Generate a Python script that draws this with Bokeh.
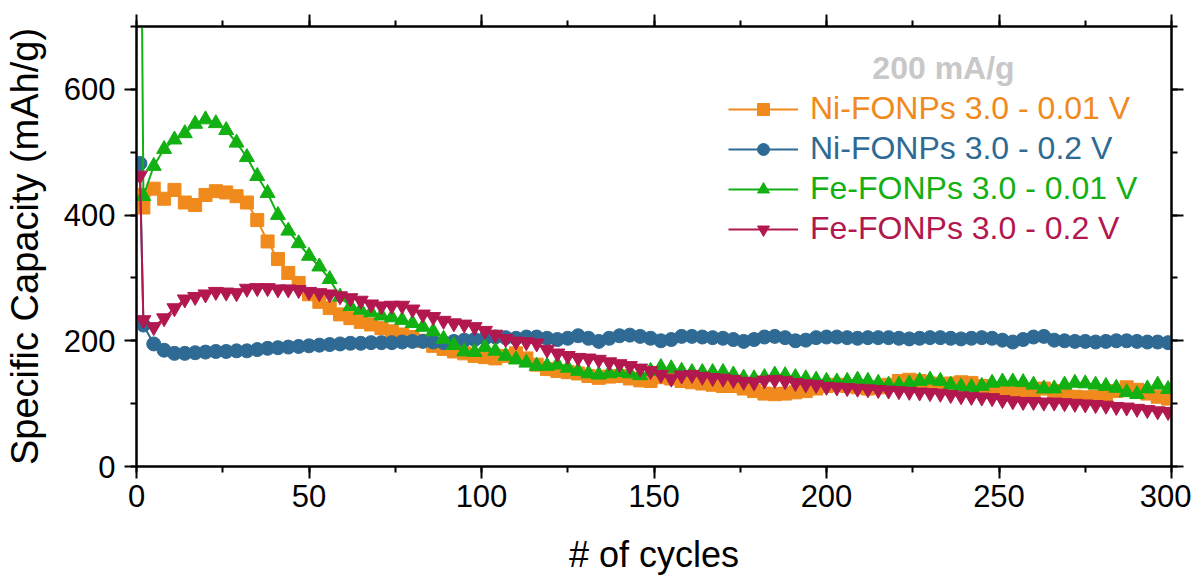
from bokeh.plotting import figure
from bokeh.models import Range1d, SingleIntervalTicker, LinearAxis, Legend, LegendItem, Label
from bokeh.embed import file_html
from bokeh.resources import INLINE

cycles = [1] + list(range(2, 301, 3))

ni_001 = [432, 412, 442, 426, 440, 420, 416, 432, 438, 436, 430, 420, 392, 358, 330, 308, 292, 274, 262, 252,
          242, 236, 230, 226, 220, 215, 210, 206, 200, 192, 187, 183, 180, 176, 174, 172, 176, 180, 172, 162,
          155, 152, 150, 148, 144, 141, 143, 144, 140, 137, 136, 142, 140, 136, 134, 132, 130, 128, 128, 124,
          120, 116, 115, 116, 118, 120, 124, 128, 130, 128, 126, 124, 126, 130, 136, 138, 136, 132, 130, 132,
          134, 133, 128, 124, 120, 117, 118, 120, 124, 120, 114, 111, 110, 111, 114, 120, 126, 122, 116, 111,
          108]
ni_02 = [482, 225, 195, 185, 180, 180, 181, 182, 183, 183, 184, 184, 186, 188, 189, 190, 191, 192, 193, 194,
         195, 196, 196, 197, 197, 197, 198, 199, 199, 198, 197, 199, 201, 202, 204, 206, 205, 204, 206, 206,
         204, 202, 204, 208, 204, 199, 204, 208, 209, 207, 204, 200, 202, 207, 207, 206, 205, 204, 202, 199,
         202, 206, 207, 205, 200, 201, 205, 206, 206, 205, 204, 205, 205, 205, 204, 203, 204, 205, 205, 204,
         203, 204, 205, 204, 201, 198, 202, 206, 207, 201, 200, 199, 199, 198, 199, 200, 200, 199, 198, 198,
         197]
fe_001 = [1150, 430, 478, 505, 520, 530, 545, 552, 546, 535, 515, 492, 462, 435, 400, 375, 355, 335, 318, 298,
          270, 255, 249, 245, 240, 237, 233, 228, 222, 215, 203, 193, 183, 182, 190, 184, 176, 170, 165, 160,
          160, 162, 157, 152, 148, 146, 148, 150, 148, 145, 152, 158, 156, 152, 150, 150, 150, 150, 146, 141,
          140, 142, 146, 145, 142, 140, 138, 136, 135, 136, 138, 136, 133, 130, 130, 132, 136, 138, 136, 130,
          127, 126, 128, 133, 135, 135, 134, 130, 124, 124, 130, 133, 132, 130, 128, 125, 118, 115, 124, 130,
          123]
fe_02 = [463, 233, 222, 236, 252, 266, 270, 274, 278, 277, 276, 283, 284, 284, 282, 282, 281, 278, 276, 274,
         271, 268, 264, 258, 255, 256, 256, 250, 242, 238, 232, 228, 226, 222, 216, 210, 203, 199, 198, 196,
         186, 180, 176, 173, 172, 170, 166, 163, 160, 156, 152, 146, 140, 145, 146, 143, 141, 140, 138, 135,
         134, 137, 138, 136, 133, 131, 130, 127, 126, 125, 124, 123, 122, 121, 120, 119, 118, 117, 116, 114,
         112, 111, 110, 109, 106, 104, 103, 103, 102, 102, 101, 100, 99, 98, 97, 95, 94, 92, 90, 88,
         87]

series_names = ["Ni-FONPs 3.0 - 0.01 V", "Ni-FONPs 3.0 - 0.2 V", "Fe-FONPs 3.0 - 0.01 V", "Fe-FONPs 3.0 - 0.2 V"]
series_values = [ni_001, ni_02, fe_001, fe_02]
colors = ["#F08A1C", "#2E6A93", "#12B012", "#B2184F"]
markers = ["square", "circle", "triangle", "inverted_triangle"]
sizes = [13, 14, 15, 15]

x_label = "# of cycles"
y_label = "Specific Capacity (mAh/g)"
legend_title = "200 mA/g"

FONT = "Liberation Sans"

p = figure(frame_width=1035, frame_height=440, x_range=Range1d(0, 300), y_range=Range1d(0, 700),
           output_backend="svg", toolbar_location=None,
           min_border_left=135, min_border_right=20, min_border_top=26, min_border_bottom=100,
           background_fill_color="white", border_fill_color="white")
p.xgrid.visible = False
p.ygrid.visible = False
p.outline_line_color = "black"
p.outline_line_width = 2

renderers = []
for vals, col, mk, sz in zip(series_values, colors, markers, sizes):
    ln = p.line(cycles, vals, line_color=col, line_width=2)
    sc = p.scatter(cycles, vals, marker=mk, size=sz, fill_color=col, line_color=col)
    renderers.append([ln, sc])


def style_axis(ax):
    ax.axis_line_color = "black"
    ax.axis_line_width = 2
    ax.major_tick_line_color = "black"
    ax.major_tick_line_width = 2
    ax.minor_tick_line_color = "black"
    ax.minor_tick_line_width = 2
    ax.major_tick_out = 12
    ax.major_tick_in = 0
    ax.minor_tick_out = 6
    ax.minor_tick_in = 0
    ax.major_label_text_font = FONT
    ax.major_label_text_font_size = "31px"
    ax.major_label_text_color = "black"
    ax.axis_label_text_font = FONT
    ax.axis_label_text_font_style = "normal"
    ax.axis_label_text_color = "black"


p.xaxis.ticker = SingleIntervalTicker(interval=50, num_minor_ticks=2)
p.yaxis.ticker = SingleIntervalTicker(interval=200, num_minor_ticks=2)
style_axis(p.xaxis[0])
style_axis(p.yaxis[0])
p.xaxis.major_label_standoff = 6
p.xaxis.axis_label = x_label
p.xaxis.axis_label_text_font_size = "36px"
p.xaxis.axis_label_standoff = 24
p.yaxis.major_label_standoff = 9
p.yaxis.axis_label = y_label
p.yaxis.axis_label_text_font_size = "38px"
p.yaxis.axis_label_standoff = 15

# top and right axes: ticks only, their labels are not drawn
top = LinearAxis(ticker=SingleIntervalTicker(interval=50, num_minor_ticks=2))
right = LinearAxis(ticker=SingleIntervalTicker(interval=200, num_minor_ticks=2))
for ax in (top, right):
    style_axis(ax)
    ax.major_label_text_color = None
    ax.major_label_text_font_size = "1px"
    ax.major_label_standoff = 0
p.add_layout(top, "above")
p.add_layout(right, "right")

p.add_layout(Label(x=807, y=399, x_units="screen", y_units="screen", text=legend_title,
                   text_font=FONT, text_font_size="32px", text_font_style="bold",
                   text_color="#C8C8C8", text_align="center", text_baseline="middle"))

for i, (name, col, rs) in enumerate(zip(series_names, colors, renderers)):
    leg = Legend(items=[LegendItem(label=name, renderers=rs)], location=(592, 339 - 40 * i),
                 border_line_alpha=0, background_fill_alpha=0, padding=0, margin=0, spacing=0,
                 glyph_width=70, glyph_height=30, label_standoff=12, label_height=30,
                 label_text_font=FONT, label_text_font_size="32px", label_text_color=col)
    p.add_layout(leg)

open("out.html", "w").write(file_html(p, INLINE))
